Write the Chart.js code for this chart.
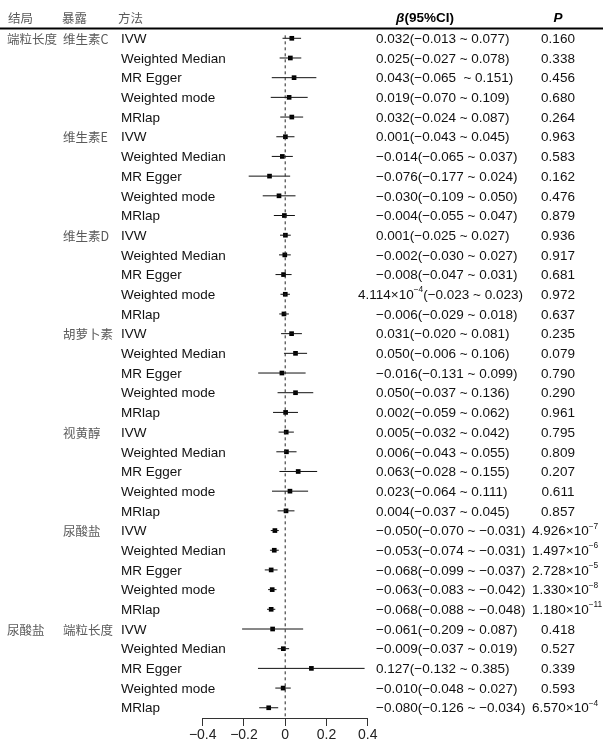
<!DOCTYPE html>
<html><head><meta charset="utf-8">
<script src="https://cdn.jsdelivr.net/npm/chart.js@4"></script>
<style>html,body{margin:0;padding:0;background:#fff;}#wrap{width:603px;height:746px;position:relative;}</style>
</head><body><div id="wrap"><canvas id="c" width="603" height="746"></canvas></div>
<script>
// ---- data ----
const outcomeLabels = ['端粒长度', '', '', '', '', '', '尿酸盐'];
const exposureLabels = ['维生素C', '维生素E', '维生素D', '胡萝卜素', '视黄醇', '尿酸盐', '端粒长度'];
const methods = ['IVW', 'Weighted Median', 'MR Egger', 'Weighted mode', 'MRlap'];
const beta = [
  0.032, 0.025, 0.043, 0.019, 0.032,
  0.001, -0.014, -0.076, -0.030, -0.004,
  0.001, -0.002, -0.008, 0.0004114, -0.006,
  0.031, 0.050, -0.016, 0.050, 0.002,
  0.005, 0.006, 0.063, 0.023, 0.004,
  -0.050, -0.053, -0.068, -0.063, -0.068,
  -0.061, -0.009, 0.127, -0.010, -0.080
];
const lower = [
  -0.013, -0.027, -0.065, -0.070, -0.024,
  -0.043, -0.065, -0.177, -0.109, -0.055,
  -0.025, -0.030, -0.047, -0.023, -0.029,
  -0.020, -0.006, -0.131, -0.037, -0.059,
  -0.032, -0.043, -0.028, -0.064, -0.037,
  -0.070, -0.074, -0.099, -0.083, -0.088,
  -0.209, -0.037, -0.132, -0.048, -0.126
];
const upper = [
  0.077, 0.078, 0.151, 0.109, 0.087,
  0.045, 0.037, 0.024, 0.050, 0.047,
  0.027, 0.027, 0.031, 0.023, 0.018,
  0.081, 0.106, 0.099, 0.136, 0.062,
  0.042, 0.055, 0.155, 0.111, 0.045,
  -0.031, -0.031, -0.037, -0.042, -0.048,
  0.087, 0.019, 0.385, 0.027, -0.034
];
const ciLabels = [
  '0.032(−0.013 ~ 0.077)', '0.025(−0.027 ~ 0.078)', '0.043(−0.065  ~ 0.151)', '0.019(−0.070 ~ 0.109)', '0.032(−0.024 ~ 0.087)',
  '0.001(−0.043 ~ 0.045)', '−0.014(−0.065 ~ 0.037)', '−0.076(−0.177 ~ 0.024)', '−0.030(−0.109 ~ 0.050)', '−0.004(−0.055 ~ 0.047)',
  '0.001(−0.025 ~ 0.027)', '−0.002(−0.030 ~ 0.027)', '−0.008(−0.047 ~ 0.031)', '4.114×10^−4^(−0.023 ~ 0.023)', '−0.006(−0.029 ~ 0.018)',
  '0.031(−0.020 ~ 0.081)', '0.050(−0.006 ~ 0.106)', '−0.016(−0.131 ~ 0.099)', '0.050(−0.037 ~ 0.136)', '0.002(−0.059 ~ 0.062)',
  '0.005(−0.032 ~ 0.042)', '0.006(−0.043 ~ 0.055)', '0.063(−0.028 ~ 0.155)', '0.023(−0.064 ~ 0.111)', '0.004(−0.037 ~ 0.045)',
  '−0.050(−0.070 ~ −0.031)', '−0.053(−0.074 ~ −0.031)', '−0.068(−0.099 ~ −0.037)', '−0.063(−0.083 ~ −0.042)', '−0.068(−0.088 ~ −0.048)',
  '−0.061(−0.209 ~ 0.087)', '−0.009(−0.037 ~ 0.019)', '0.127(−0.132 ~ 0.385)', '−0.010(−0.048 ~ 0.027)', '−0.080(−0.126 ~ −0.034)'
];
const pLabels = [
  '0.160', '0.338', '0.456', '0.680', '0.264',
  '0.963', '0.583', '0.162', '0.476', '0.879',
  '0.936', '0.917', '0.681', '0.972', '0.637',
  '0.235', '0.079', '0.790', '0.290', '0.961',
  '0.795', '0.809', '0.207', '0.611', '0.857',
  '4.926×10^−7^', '1.497×10^−6^', '2.728×10^−5^', '1.330×10^−8^', '1.180×10^−11^',
  '0.418', '0.527', '0.339', '0.593', '6.570×10^−4^'
];
const xTicks = [-0.4, -0.2, 0, 0.2, 0.4];

// ---- build datasets ----
const rows = beta.map((b, i) => i);
const ciSets = rows.map(i => ({
  type: 'line',
  data: [{x: lower[i], y: i}, {x: upper[i], y: i}],
  borderColor: '#111', borderWidth: 1, pointRadius: 0, fill: false, clip: false
}));
const zeroSet = {
  type: 'line',
  data: [{x: 0, y: -0.15}, {x: 0, y: 34.52}],
  borderColor: '#222', borderWidth: 1, borderDash: [3, 3], pointRadius: 0, fill: false, clip: false
};
const pointSet = {
  type: 'scatter',
  data: rows.map(i => ({x: beta[i], y: i})),
  backgroundColor: '#000', borderColor: '#000', borderWidth: 0,
  pointStyle: 'rect', pointRadius: 3.3, clip: false
};

const LATIN = '"Liberation Sans", Arial, sans-serif';
const CJK = '"Noto Sans CJK SC", sans-serif';

function drawRich(ctx, str, x, y, size, align) {
  // supports a superscript written as ^...^
  const parts = str.split('^');
  let total = 0;
  const widths = parts.map((p, k) => {
    ctx.font = (k % 2 ? size * 0.62 : size) + 'px ' + LATIN;
    const w = ctx.measureText(p).width; total += w; return w;
  });
  let cx = align === 'center' ? x - total / 2 : x;
  ctx.textAlign = 'left';
  parts.forEach((p, k) => {
    const sup = k % 2 === 1;
    ctx.font = (sup ? size * 0.62 : size) + 'px ' + LATIN;
    ctx.fillText(p, cx, sup ? y - size * 0.38 : y);
    cx += widths[k];
  });
}

const textPlugin = {
  id: 'tableText',
  afterDraw(chart) {
    const ctx = chart.ctx;
    const ys = chart.scales.y;
    ctx.save();
    ctx.textBaseline = 'middle';
    // header
    ctx.fillStyle = '#5a5a5a';
    ctx.font = '12.5px ' + CJK;
    ctx.textAlign = 'left';
    ctx.fillText('结局', 8, 18);
    ctx.fillText('暴露', 62, 18);
    ctx.fillText('方法', 118, 18);
    ctx.fillStyle = '#000';
    ctx.font = 'bold italic 13.5px ' + LATIN;
    const bW = ctx.measureText('β').width;
    ctx.font = 'bold 13.5px ' + LATIN;
    const rW = ctx.measureText('(95%CI)').width;
    let hx = 425 - (bW + rW) / 2;
    ctx.font = 'bold italic 13.5px ' + LATIN;
    ctx.fillText('β', hx, 18);
    ctx.font = 'bold 13.5px ' + LATIN;
    ctx.fillText('(95%CI)', hx + bW, 18);
    ctx.font = 'bold italic 13.5px ' + LATIN;
    ctx.textAlign = 'center';
    ctx.fillText('P', 558, 18);
    // header rule
    ctx.strokeStyle = '#000';
    ctx.lineWidth = 2;
    ctx.beginPath(); ctx.moveTo(0, 28.5); ctx.lineTo(603, 28.5); ctx.stroke();
    // rows
    for (let i = 0; i < beta.length; i++) {
      const y = ys.getPixelForValue(i) + 1;
      const blk = Math.floor(i / 5), m = i % 5;
      ctx.textAlign = 'left';
      if (m === 0) {
        ctx.fillStyle = '#5a5a5a';
        ctx.font = '12.5px ' + CJK;
        if (outcomeLabels[blk]) ctx.fillText(outcomeLabels[blk], 7, y);
        ctx.fillText(exposureLabels[blk], 63, y);
      }
      ctx.fillStyle = '#111';
      ctx.font = '13.5px ' + LATIN;
      ctx.fillText(methods[m], 121, y);
      const ciX = ciLabels[i].indexOf('^') >= 0 ? 358 : 376;
      drawRich(ctx, ciLabels[i], ciX, y, 13.5, 'left');
      if (pLabels[i].indexOf('^') >= 0) drawRich(ctx, pLabels[i], 532, y, 13.5, 'left');
      else drawRich(ctx, pLabels[i], 558, y, 13.5, 'center');
    }
    ctx.restore();
  }
};

new Chart(document.getElementById('c'), {
  type: 'scatter',
  data: { datasets: [zeroSet, ...ciSets, pointSet] },
  options: {
    responsive: false, animation: false, devicePixelRatio: 1,
    layout: { padding: { left: 202.7, right: 235.3, top: 28.45, bottom: 0 } },
    plugins: { legend: { display: false }, tooltip: { enabled: false } },
    scales: {
      x: {
        type: 'linear', min: -0.4, max: 0.4, position: 'bottom',
        afterFit(s) { s.height = 28; },
        afterBuildTicks(s) { s.ticks = xTicks.map(v => ({ value: v })); },
        grid: { drawOnChartArea: false, drawTicks: true, tickLength: 8, tickColor: '#333' },
        border: { display: true, color: '#333', width: 1 },
        ticks: {
          padding: 1, color: '#222', maxRotation: 0, autoSkip: false,
          font: { family: 'Liberation Sans', size: 14 },
          callback: v => Math.abs(v) < 1e-9 ? '0' : (v < 0 ? '−' : '') + Math.abs(v).toFixed(1)
        }
      },
      y: { type: 'linear', display: false, reverse: true, min: -0.5, max: 34.52 }
    }
  },
  plugins: [textPlugin]
});
</script></body></html>
